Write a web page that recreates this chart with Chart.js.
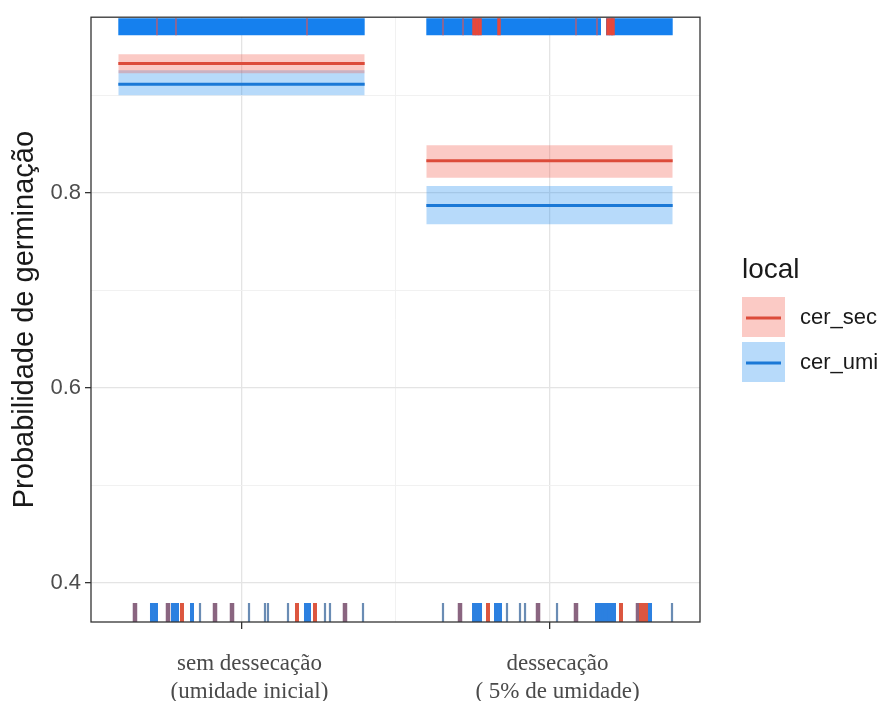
<!DOCTYPE html>
<html>
<head>
<meta charset="utf-8">
<script src="https://cdn.jsdelivr.net/npm/chart.js@4/dist/chart.umd.min.js"></script>
<style>
html,body{margin:0;padding:0;background:#fff;}
#wrap{width:890px;height:701px;position:relative;}
canvas{display:block;}
</style>
</head>
<body>
<div id="wrap"><canvas id="c" width="890" height="701"></canvas></div>
<script>
// ---------- data ----------
const categories = ['sem dessecação', 'dessecação'];
const categoryNotes = ['(umidade inicial)', '( 5% de umidade)'];
const categoryX = [1, 2];
const seriesNames = ['cer_sec', 'cer_umi'];

const fitSec  = [0.933, 0.8331];
const lowSec  = [0.923, 0.8157];
const highSec = [0.9426, 0.8492];

const fitUmi  = [0.9118, 0.7874];
const lowUmi  = [0.9005, 0.7682];
const highUmi = [0.926, 0.8072];

const yTicks = [0.4, 0.5, 0.6, 0.7, 0.8, 0.9];
const yLabelTicks = [0.4, 0.6, 0.8];
const xGridTicks = [1, 1.5, 2];

// rug (observations): germinated = top, not germinated = bottom (jittered x)
const rugTopUmiRanges = [[0.6, 1.4], [1.6, 2.1672], [2.1834, 2.4]];
const rugTopSec  = [1.7549, 1.7646, 1.7744, 1.836, 2.1899, 2.1997, 2.2062];
const rugTopBoth = [0.7256, 0.7873, 1.2127, 1.6542, 1.7192, 2.086, 2.1542];

const rugBottomUmi  = [0.7094, 0.7224, 0.7776, 0.7906, 0.8393, 1.2094, 1.2192,
                       1.7549, 1.7646, 1.7744, 1.8263, 1.8393,
                       2.1542, 2.164, 2.1737, 2.1834, 2.1932, 2.2029, 2.2094, 2.3263];
const rugBottomSec  = [0.8068, 1.1802, 1.2386, 1.8003, 2.2321, 2.2971, 2.3068, 2.3166];
const rugBottomBoth = [0.6542, 0.7614, 0.914, 0.9692, 1.336, 1.7094, 1.9627, 2.086, 2.2873];
const rugBottomThin = [0.8653, 1.0244, 1.0763, 1.086, 1.151, 1.2711, 1.2873, 1.3945,
                       1.6542, 1.862, 1.9042, 1.9205, 2.0244, 2.3977];

// ---------- configuration ----------
const X_MIN = 0.5114, X_MAX = 2.4886;
const Y_MIN = 0.36, Y_MAX = 0.9805;
const HALF = 0.4;
const RUG_TOP = 0.9708, RUG_BOTTOM = 0.3697;

const SANS = '"Liberation Sans", Arial, sans-serif';
const SERIF = '"Liberation Serif", "Times New Roman", serif';

const series = [
  {name: seriesNames[0], fit: fitSec, lo: lowSec, hi: highSec, line: '#DC4B3A', band: 'rgba(242,90,75,0.32)'},
  {name: seriesNames[1], fit: fitUmi, lo: lowUmi, hi: highUmi, line: '#1A78D6', band: 'rgba(30,140,240,0.32)'}
];

const seg = (c, v) => [{x: c - HALF, y: v}, {x: c + HALF, y: v}];
const datasets = [];

// confidence bands
series.forEach(s => categoryX.forEach((c, i) => {
  datasets.push({type: 'line', data: seg(c, s.hi[i]), borderWidth: 0, pointRadius: 0, fill: false, order: 10});
  datasets.push({type: 'line', data: seg(c, s.lo[i]), borderWidth: 0, pointRadius: 0, fill: '-1',
                 backgroundColor: s.band, order: 10});
}));
// fitted lines
series.forEach(s => categoryX.forEach((c, i) => {
  datasets.push({type: 'line', data: seg(c, s.fit[i]), borderColor: s.line, borderWidth: 3,
                 pointRadius: 0, fill: false, order: 5});
}));

// top rug of umi observations (dense -> continuous band)
const topRugData = [];
rugTopUmiRanges.forEach((r, i) => {
  if (i > 0) topRugData.push({x: (rugTopUmiRanges[i - 1][1] + r[0]) / 2, y: null});
  topRugData.push({x: r[0], y: RUG_TOP}, {x: r[1], y: RUG_TOP});
});
datasets.push({type: 'line', data: topRugData, borderColor: '#1580EE', borderWidth: 17,
               borderCapStyle: 'butt', pointRadius: 0, fill: false, spanGaps: false, order: 3});

function rug(xs, yv, color, width, r) {
  return {
    type: 'scatter', data: xs.map(x => ({x: x, y: yv})), showLine: false,
    pointStyle: 'line', pointRotation: 90, pointRadius: r, pointHoverRadius: r,
    pointBorderWidth: width, pointHoverBorderWidth: width,
    pointBorderColor: color, pointBackgroundColor: color, order: 2
  };
}
datasets.push(rug(rugTopSec, RUG_TOP, '#E8483A', 3.5, 8.5));
datasets.push(rug(rugTopBoth, RUG_TOP, 'rgba(190,90,110,0.85)', 1.6, 8.5));
datasets.push(rug(rugBottomUmi, RUG_BOTTOM, '#2C80E0', 4, 9.5));
datasets.push(rug(rugBottomSec, RUG_BOTTOM, '#DC563F', 4, 9.5));
datasets.push(rug(rugBottomBoth, RUG_BOTTOM, '#8A6580', 4.5, 9.5));
datasets.push(rug(rugBottomThin, RUG_BOTTOM, '#6A8CB4', 2.2, 9.5));

const near = (a, b) => Math.abs(a - b) < 1e-6;
const isMajorY = v => yLabelTicks.some(t => near(t, v));
const isMajorX = v => categoryX.some(t => near(t, v));

const framePlugin = {
  id: 'frame',
  afterDatasetsDraw(chart) {
    const {ctx, chartArea: a} = chart;
    ctx.save();
    ctx.strokeStyle = '#333333';
    ctx.lineWidth = 1.3;
    ctx.strokeRect(a.left, a.top, a.right - a.left, a.bottom - a.top);
    ctx.restore();
  }
};

const legendPlugin = {
  id: 'ggLegend',
  afterDraw(chart) {
    const {ctx, chartArea: a} = chart;
    const x0 = a.right + 42;
    ctx.save();
    ctx.fillStyle = '#1a1a1a';
    ctx.font = '28px ' + SANS;
    ctx.textBaseline = 'alphabetic';
    ctx.textAlign = 'left';
    ctx.fillText('local', x0, 278);
    series.forEach((s, i) => {
      const y = 297 + i * 45;
      ctx.fillStyle = '#ffffff';
      ctx.fillRect(x0, y, 43, 40);
      ctx.fillStyle = s.band;
      ctx.fillRect(x0, y, 43, 40);
      ctx.strokeStyle = s.line;
      ctx.lineWidth = 3;
      ctx.beginPath();
      ctx.moveTo(x0 + 4, y + 21);
      ctx.lineTo(x0 + 39, y + 21);
      ctx.stroke();
      ctx.fillStyle = '#1a1a1a';
      ctx.font = '22px ' + SANS;
      ctx.textBaseline = 'middle';
      ctx.fillText(s.name, x0 + 58, y + 21);
    });
    ctx.restore();
  }
};

new Chart(document.getElementById('c'), {
  type: 'line',
  data: {datasets: datasets},
  options: {
    responsive: false,
    devicePixelRatio: 1,
    animation: false,
    events: [],
    layout: {padding: {top: 17, right: 190, left: 0, bottom: 0}},
    plugins: {legend: {display: false}, tooltip: {enabled: false}},
    scales: {
      x: {
        type: 'linear', min: X_MIN, max: X_MAX,
        afterBuildTicks: sc => { sc.ticks = xGridTicks.map(v => ({value: v})); },
        afterFit: sc => { sc.height = 79; },
        border: {display: false},
        grid: {
          color: c => isMajorX(c.tick.value) ? '#E4E4E4' : '#EFEFEF',
          lineWidth: c => isMajorX(c.tick.value) ? 1.3 : 0.9,
          tickColor: c => isMajorX(c.tick.value) ? '#333333' : 'rgba(0,0,0,0)',
          tickLength: 7, tickWidth: 1.3
        },
        ticks: {
          autoSkip: false, maxRotation: 0, minRotation: 0, padding: 21, labelOffset: 8,
          color: '#4a4a4a',
          font: {family: SERIF, size: 23, lineHeight: '28px'},
          callback: v => {
            const i = categoryX.findIndex(t => near(t, v));
            return i >= 0 ? [categories[i], categoryNotes[i]] : '';
          }
        }
      },
      y: {
        type: 'linear', min: Y_MIN, max: Y_MAX,
        afterBuildTicks: sc => { sc.ticks = yTicks.map(v => ({value: v})); },
        afterFit: sc => { sc.width = 91; },
        border: {display: false},
        grid: {
          color: c => isMajorY(c.tick.value) ? '#E4E4E4' : '#EFEFEF',
          lineWidth: c => isMajorY(c.tick.value) ? 1.3 : 0.9,
          tickColor: c => isMajorY(c.tick.value) ? '#333333' : 'rgba(0,0,0,0)',
          tickLength: 6, tickWidth: 1.3
        },
        ticks: {
          padding: 4, color: '#4D4D4D',
          font: {family: SANS, size: 22},
          callback: v => isMajorY(v) ? v.toFixed(1) : ''
        },
        title: {
          display: true, text: 'Probabilidade de germinação', color: '#1a1a1a',
          font: {family: SANS, size: 29},
          padding: {top: 7.6, bottom: 0}
        }
      }
    }
  },
  plugins: [framePlugin, legendPlugin]
});
</script>
</body>
</html>
